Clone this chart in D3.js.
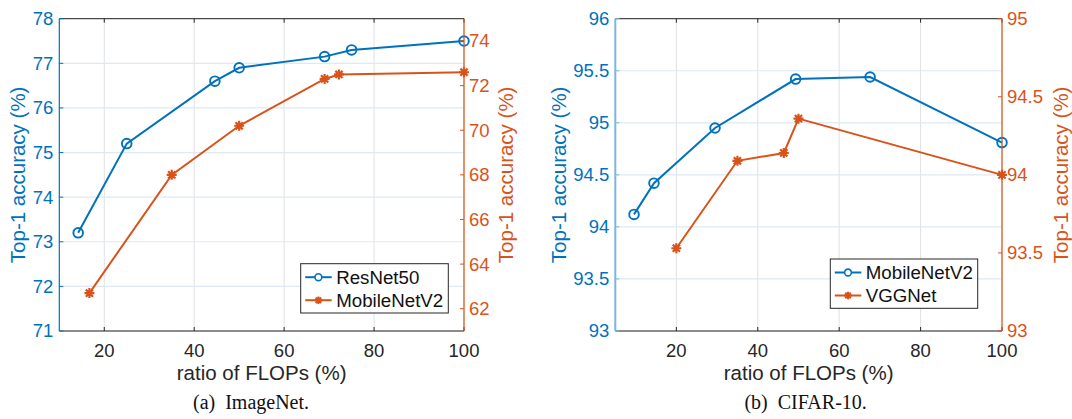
<!DOCTYPE html>
<html><head><meta charset="utf-8">
<script src="https://cdn.jsdelivr.net/npm/d3@7/dist/d3.min.js"></script>
<style>body{margin:0;background:#fff}svg{display:block}</style>
</head><body>
<svg id="c" width="1072" height="419"></svg>
<script>
// ---- data ----
// (a) ImageNet
const inResNetX = [14.2, 25, 44.6, 50, 69, 75, 100];
const inResNetY = [73.2, 75.2, 76.6, 76.9, 77.15, 77.3, 77.5];
const inMobileX = [16.7, 35, 50, 69, 72.2, 100];
const inMobileY = [62.7, 68.0, 70.2, 72.3, 72.5, 72.6];
// (b) CIFAR-10
const cfMobileX = [9.6, 14.5, 29.5, 49.3, 67.6, 100];
const cfMobileY = [94.12, 94.42, 94.95, 95.42, 95.44, 94.81];
const cfVggX = [20, 35, 46.4, 50, 100];
const cfVggY = [93.53, 94.09, 94.14, 94.36, 94.0];
// ticks
const xTicks = [20, 40, 60, 80, 100];
const inLeftTicks = [71, 72, 73, 74, 75, 76, 77, 78];
const inRightTicks = [62, 64, 66, 68, 70, 72, 74];
const cfLeftTicks = [93, 93.5, 94, 94.5, 95, 95.5, 96];
const cfRightTicks = [93, 93.5, 94, 94.5, 95];

const BLUE = "#0072BD", ORANGE = "#D95319", AX = "#262626";
const FONT = "'Liberation Sans', Arial, Helvetica, sans-serif";
const svg = d3.select("#c");
svg.append("rect").attr("width",1072).attr("height",419).attr("fill","#fff");

function asterisk(g, x, y, s, w) {
  const d = `M${x-s},${y}L${x+s},${y}M${x},${y-s}L${x},${y+s}` +
    `M${x-s*0.72},${y-s*0.72}L${x+s*0.72},${y+s*0.72}M${x-s*0.72},${y+s*0.72}L${x+s*0.72},${y-s*0.72}`;
  g.append("path").attr("d", d).attr("stroke", ORANGE).attr("stroke-width", w || 2.2).attr("fill","none");
}
function circle(g, x, y) {
  g.append("circle").attr("cx", x).attr("cy", y).attr("r", 4.8)
    .attr("fill","none").attr("stroke", BLUE).attr("stroke-width", 1.9);
}

function panel(cfg) {
  const g = svg.append("g");
  const x = d3.scaleLinear().domain(cfg.xDom).range([cfg.x0, cfg.x1]);
  const yL = d3.scaleLinear().domain(cfg.yLDom).range([cfg.y1, cfg.y0]);
  const yR = d3.scaleLinear().domain(cfg.yRDom).range([cfg.y1, cfg.y0]);
  // grid
  xTicks.forEach(t => g.append("line").attr("x1", x(t)).attr("x2", x(t))
    .attr("y1", cfg.y0).attr("y2", cfg.y1).attr("stroke", "#dfe1e4").attr("stroke-width", 1));
  cfg.yLTicks.forEach(t => g.append("line").attr("x1", cfg.x0).attr("x2", cfg.x1)
    .attr("y1", yL(t)).attr("y2", yL(t)).attr("stroke", "#dde9f5").attr("stroke-width", 1.2));
  // series
  const line = d3.line();
  const s1 = cfg.s1x.map((v,i)=>[x(v), yL(cfg.s1y[i])]);
  const s2 = cfg.s2x.map((v,i)=>[x(v), yR(cfg.s2y[i])]);
  g.append("path").attr("d", line(s1)).attr("fill","none").attr("stroke", BLUE).attr("stroke-width", 2);
  g.append("path").attr("d", line(s2)).attr("fill","none").attr("stroke", ORANGE).attr("stroke-width", 2);
  s1.forEach(p => circle(g, p[0], p[1]));
  s2.forEach(p => asterisk(g, p[0], p[1], 5));
  // axes: top & bottom
  g.append("line").attr("x1", cfg.x0).attr("x2", cfg.x1).attr("y1", cfg.y0).attr("y2", cfg.y0).attr("stroke", AX).attr("stroke-width", 1);
  g.append("line").attr("x1", cfg.x0).attr("x2", cfg.x1).attr("y1", cfg.y1).attr("y2", cfg.y1).attr("stroke", AX).attr("stroke-width", 1);
  xTicks.forEach(t => {
    g.append("line").attr("x1", x(t)).attr("x2", x(t)).attr("y1", cfg.y1).attr("y2", cfg.y1-4).attr("stroke", AX);
    g.append("line").attr("x1", x(t)).attr("x2", x(t)).attr("y1", cfg.y0).attr("y2", cfg.y0+4).attr("stroke", AX);
    g.append("text").attr("x", x(t)).attr("y", cfg.y1+26).attr("text-anchor","middle")
      .attr("font-family", FONT).attr("font-size", 18.5).attr("fill", AX).text(t);
  });
  // left axis
  g.append("line").attr("x1", cfg.x0).attr("x2", cfg.x0).attr("y1", cfg.y0).attr("y2", cfg.y1).attr("stroke", cfg.leftAxisColor).attr("stroke-width", cfg.leftAxisW);
  cfg.yLTicks.forEach(t => {
    g.append("line").attr("x1", cfg.x0).attr("x2", cfg.x0+4).attr("y1", yL(t)).attr("y2", yL(t)).attr("stroke", cfg.leftAxisColor);
    g.append("text").attr("x", cfg.x0-6).attr("y", yL(t)).attr("dy","0.35em").attr("text-anchor","end")
      .attr("font-family", FONT).attr("font-size", 18.5).attr("fill", BLUE).text(t);
  });
  // right axis
  g.append("line").attr("x1", cfg.x1).attr("x2", cfg.x1).attr("y1", cfg.y0).attr("y2", cfg.y1).attr("stroke", ORANGE).attr("stroke-width", 1.2);
  cfg.yRTicks.forEach(t => {
    g.append("line").attr("x1", cfg.x1).attr("x2", cfg.x1-4).attr("y1", yR(t)).attr("y2", yR(t)).attr("stroke", ORANGE);
    g.append("text").attr("x", cfg.x1+5).attr("y", yR(t)).attr("dy","0.35em").attr("text-anchor","start")
      .attr("font-family", FONT).attr("font-size", 18.5).attr("fill", ORANGE).text(t);
  });
  // labels
  const cy = (cfg.y0+cfg.y1)/2;
  g.append("text").attr("transform", `translate(${cfg.lLabX},${cy}) rotate(-90)`).attr("text-anchor","middle")
    .attr("dy","0.35em").attr("font-family", FONT).attr("font-size", 20.5).attr("fill", BLUE).text("Top-1 accuracy (%)");
  g.append("text").attr("transform", `translate(${cfg.rLabX},${cy}) rotate(-90)`).attr("text-anchor","middle")
    .attr("dy","0.35em").attr("font-family", FONT).attr("font-size", 20.5).attr("fill", ORANGE).text("Top-1 accuracy (%)");
  g.append("text").attr("x", (cfg.x0+cfg.x1)/2).attr("y", 380).attr("text-anchor","middle")
    .attr("font-family", FONT).attr("font-size", 20.5).attr("fill", AX).text("ratio of FLOPs (%)");
  g.append("text").attr("x", cfg.capX).attr("y", 409).attr("text-anchor","middle").attr("xml:space","preserve")
    .attr("font-family", "'Liberation Serif', 'Times New Roman', serif").attr("font-size", 20).attr("fill", "#111").text(cfg.caption);
  // legend
  const L = cfg.legend;
  g.append("rect").attr("x", L.x).attr("y", L.y).attr("width", L.w).attr("height", L.h)
    .attr("fill","#fff").attr("stroke", AX).attr("stroke-width", 1);
  const rows = [{name: cfg.s1name, c: BLUE, m: "o"}, {name: cfg.s2name, c: ORANGE, m: "*"}];
  rows.forEach((r,i) => {
    const yy = L.y + 13.5 + i*23;
    g.append("line").attr("x1", L.x+4.5).attr("x2", L.x+31).attr("y1", yy).attr("y2", yy).attr("stroke", r.c).attr("stroke-width", 2);
    if (r.m === "o") { g.append("circle").attr("cx", L.x+17.7).attr("cy", yy).attr("r", 3.4).attr("fill","#fff").attr("stroke", BLUE).attr("stroke-width", 1.6); }
    else asterisk(g, L.x+17.7, yy, 3.8, 2);
    g.append("text").attr("x", L.x+35.5).attr("y", yy).attr("dy","0.35em").attr("font-family", FONT)
      .attr("font-size", 18.7).attr("fill", "#111").text(r.name);
  });
}

panel({x0:59.3, x1:464, y0:18.7, y1:331, xDom:[10,100], yLDom:[71,78], yRDom:[61,75],
  yLTicks: inLeftTicks, yRTicks: inRightTicks, s1x: inResNetX, s1y: inResNetY, s2x: inMobileX, s2y: inMobileY,
  s1name:"ResNet50", s2name:"MobileNetV2", leftAxisColor: BLUE, leftAxisW: 1.2,
  lLabX: 18, rLabX: 506, capX: 251, caption: "(a)  ImageNet.",
  legend:{x:300.7, y:263.7, w:147.6, h:49.3}});
panel({x0:615.3, x1:1002, y0:18.7, y1:331, xDom:[5,100], yLDom:[93,96], yRDom:[93,95],
  yLTicks: cfLeftTicks, yRTicks: cfRightTicks, s1x: cfMobileX, s1y: cfMobileY, s2x: cfVggX, s2y: cfVggY,
  s1name:"MobileNetV2", s2name:"VGGNet", leftAxisColor: "#7db6e0", leftAxisW: 2,
  lLabX: 559, rLabX: 1061, capX: 805.6, caption: "(b)  CIFAR-10.",
  legend:{x:830.3, y:259, w:147.4, h:49.3}});
</script>
</body></html>
